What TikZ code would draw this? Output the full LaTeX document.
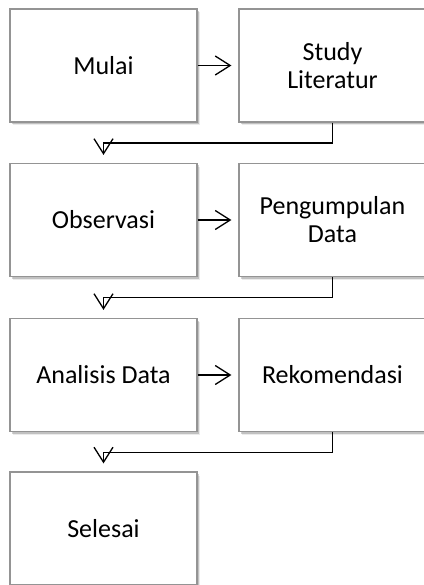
\documentclass[tikz,border=0pt]{standalone}
\usepackage{fontspec}
\setmainfont{Carlito}
\usetikzlibrary{arrows.meta,shadows}
\begin{document}
\begin{tikzpicture}[x=1pt,y=-1pt,
  box/.style={draw=black!42, line width=1.2pt, fill=white,
    minimum width=187pt, minimum height=113pt, align=center, inner sep=0pt,
    font=\fontsize{26}{28}\selectfont,
    drop shadow={shadow xshift=2.5pt, shadow yshift=-3.5pt, opacity=0.08, fill=black},
    drop shadow={shadow xshift=1.5pt, shadow yshift=-2pt, opacity=0.18, fill=black}},
  conn/.style={line width=1.3pt, -{Straight Barb[length=15pt,width=19pt,line width=1.3pt]}}]
\useasboundingbox (0,0) rectangle (423,585);
\node[box] (mulai) at (103.5,65.5) {Mulai};
\node[box] (study) at (332.5,65.5) {Study\\Literatur};
\node[box] (obs) at (103.5,220) {Observasi};
\node[box] (peng) at (332.5,220) {Pengumpulan\\Data};
\node[box] (anal) at (103.5,375) {Analisis Data};
\node[box] (rek) at (332.5,375) {Rekomendasi};
\node[box] (sel) at (103.5,528.5) {Selesai};
\draw[conn, shorten >=7pt] (mulai.east) -- (study.west);
\draw[conn, shorten >=7pt] (obs.east) -- (peng.west);
\draw[conn, shorten >=7pt] (anal.east) -- (rek.west);
\draw[conn, shorten >=8pt] (study.south) -- ++(0,20.5) -| (obs.north);
\draw[conn, shorten >=8pt] (peng.south) -- ++(0,20.5) -| (anal.north);
\draw[conn, shorten >=8pt] (rek.south) -- ++(0,20.5) -| (sel.north);
\end{tikzpicture}
\end{document}
